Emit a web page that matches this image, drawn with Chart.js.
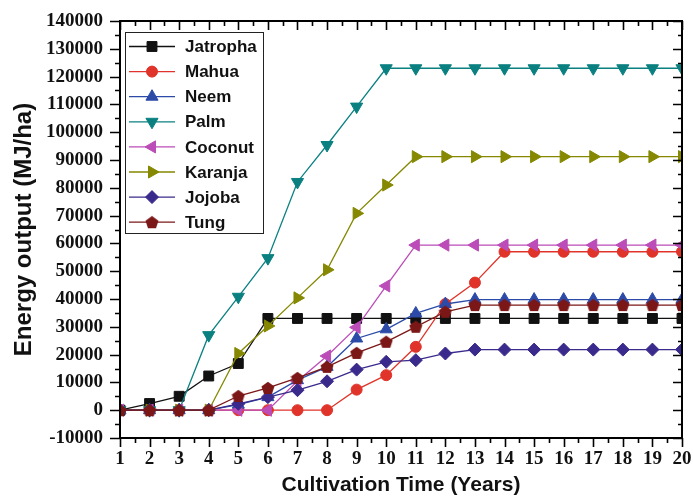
<!DOCTYPE html>
<html>
<head>
<meta charset="utf-8">
<script src="https://cdn.jsdelivr.net/npm/chart.js@4.4.1/dist/chart.umd.min.js"></script>
<style>
  html, body { margin: 0; padding: 0; background: #fff; }
  #wrap { width: 693px; height: 498px; }
</style>
</head>
<body>
<div id="wrap"><canvas id="myChart" width="693" height="498"></canvas></div>
<script>
// data
const years = [1, 2, 3, 4, 5, 6, 7, 8, 9, 10, 11, 12, 13, 14, 15, 16, 17, 18, 19, 20];
const jatropha = [0, 2400, 5000, 12300, 16800, 33000, 33000, 33000, 33000, 33000, 33000, 33000, 33000, 33000, 33000, 33000, 33000, 33000, 33000, 33000];
const mahua = [0, 0, 0, 0, 0, 0, 0, 0, 7400, 12600, 22800, 38200, 45900, 57000, 57000, 57000, 57000, 57000, 57000, 57000];
const neem = [0, 0, 0, 0, 2000, 4700, 10800, 15600, 25800, 29100, 34800, 38200, 39800, 39800, 39800, 39800, 39800, 39800, 39800, 39800];
const palm = [0, 0, 0, 27000, 40800, 54700, 82100, 95400, 109200, 123000, 123000, 123000, 123000, 123000, 123000, 123000, 123000, 123000, 123000, 123000];
const coconut = [0, 0, 0, 0, 0, 0, 10500, 19500, 29800, 44700, 59400, 59400, 59400, 59400, 59400, 59400, 59400, 59400, 59400, 59400];
const karanja = [0, 0, 0, 0, 20400, 30300, 40400, 50500, 70800, 81000, 91200, 91200, 91200, 91200, 91200, 91200, 91200, 91200, 91200, 91200];
const jojoba = [0, 0, 0, 0, 2300, 4700, 7200, 10400, 14600, 17400, 18000, 20400, 21800, 21800, 21800, 21800, 21800, 21800, 21800, 21800];
const tung = [0, 0, 0, 0, 5100, 8000, 11600, 15600, 20600, 24600, 30000, 35400, 37800, 37800, 37800, 37800, 37800, 37800, 37800, 37800];

const seriesNames = ['Jatropha', 'Mahua', 'Neem', 'Palm', 'Coconut', 'Karanja', 'Jojoba', 'Tung'];
const seriesValues = [jatropha, mahua, neem, palm, coconut, karanja, jojoba, tung];
const seriesColors = ['#111111', '#e0332a', '#2c4ba8', '#0b8080', '#bb4cb8', '#858800', '#3a2a8c', '#7c1717'];

// pentagon marker for Tung (not a built-in point style)
function pentagon(color) {
  const c = document.createElement('canvas');
  c.width = 14; c.height = 14;
  const g = c.getContext('2d');
  g.fillStyle = color;
  g.beginPath();
  for (let k = 0; k < 5; k++) {
    const a = -Math.PI / 2 + k * 2 * Math.PI / 5;
    const px = 7 + Math.cos(a) * 6.8, py = 7.6 + Math.sin(a) * 6.8;
    if (k === 0) g.moveTo(px, py); else g.lineTo(px, py);
  }
  g.closePath();
  g.fill();
  return c;
}

const markers = [
  { style: 'rect', radius: 7, rotation: 0 },
  { style: 'circle', radius: 5.5, rotation: 0 },
  { style: 'triangle', radius: 7, rotation: 0 },
  { style: 'triangle', radius: 7, rotation: 180 },
  { style: 'triangle', radius: 7, rotation: 270 },
  { style: 'triangle', radius: 7, rotation: 90 },
  { style: 'rectRot', radius: 6.5, rotation: 0 },
  { style: pentagon('#7c1717'), radius: 7, rotation: 0 }
];

const datasets = seriesNames.map((name, i) => ({
  label: name,
  data: years.map((yr, j) => ({ x: yr, y: seriesValues[i][j] })),
  borderColor: seriesColors[i],
  backgroundColor: seriesColors[i],
  borderWidth: 1.3,
  pointStyle: markers[i].style,
  pointRadius: markers[i].radius,
  pointRotation: markers[i].rotation,
  pointBorderWidth: 1,
  pointBorderColor: seriesColors[i],
  pointBackgroundColor: seriesColors[i],
  tension: 0,
  order: seriesNames.length - i
}));

// ticks on all four sides plus the in-plot legend box
const frameAndLegend = {
  id: 'frameAndLegend',
  afterDraw(chart) {
    const ctx = chart.ctx;
    const a = chart.chartArea;
    const xs = chart.scales.x, ys = chart.scales.y;
    ctx.save();
    ctx.strokeStyle = '#000';
    ctx.lineWidth = 2;
    ctx.strokeRect(a.left, a.top, a.right - a.left, a.bottom - a.top);

    ctx.lineWidth = 1.6;
    ctx.beginPath();
    for (let v = -10000; v <= 140000; v += 5000) {
      const py = Math.round(ys.getPixelForValue(v)) + 0.5;
      const len = v % 10000 === 0 ? 10 : 5;
      ctx.moveTo(a.left, py); ctx.lineTo(a.left - len, py);
      ctx.moveTo(a.right, py); ctx.lineTo(a.right - len + 1, py);
    }
    for (let v = 1; v <= 20; v += 0.5) {
      const px = Math.round(xs.getPixelForValue(v)) + 0.5;
      const len = v % 1 === 0 ? 9 : 5;
      ctx.moveTo(px, a.bottom); ctx.lineTo(px, a.bottom + len);
      ctx.moveTo(px, a.top); ctx.lineTo(px, a.top + len);
    }
    ctx.stroke();

    // legend
    const bx = 125.5, by = 32.5, bw = 138, bh = 201;
    ctx.fillStyle = '#fff';
    ctx.fillRect(bx, by, bw, bh);
    ctx.lineWidth = 1;
    ctx.strokeStyle = '#222';
    ctx.strokeRect(bx, by, bw, bh);
    ctx.font = 'bold 17px "Liberation Sans", Arial, sans-serif';
    ctx.textBaseline = 'middle';
    ctx.textAlign = 'left';
    chart.data.datasets.forEach((ds, i) => {
      const yy = 46.5 + i * 25.1;
      ctx.strokeStyle = ds.borderColor;
      ctx.lineWidth = 1.3;
      ctx.beginPath();
      ctx.moveTo(129, yy); ctx.lineTo(175, yy);
      ctx.stroke();
      ctx.fillStyle = ds.backgroundColor;
      ctx.strokeStyle = ds.borderColor;
      ctx.lineWidth = 1;
      Chart.helpers.drawPoint(ctx, {
        pointStyle: ds.pointStyle,
        radius: ds.pointRadius,
        rotation: ds.pointRotation,
        borderWidth: 1
      }, 152, yy);
      ctx.fillStyle = '#111';
      ctx.fillText(ds.label, 185, yy + 1);
    });
    ctx.restore();
  }
};

const ctx = document.getElementById('myChart');

new Chart(ctx, {
  type: 'line',
  data: { datasets: datasets },
  options: {
    responsive: false,
    animation: false,
    events: [],
    layout: { autoPadding: false, padding: { top: 21, right: 11, left: 0, bottom: 0 } },
    plugins: {
      legend: { display: false },
      tooltip: { enabled: false }
    },
    scales: {
      x: {
        type: 'linear',
        min: 1,
        max: 20,
        afterFit: (s) => { s.height = 60; s.paddingLeft = 0; s.paddingRight = 0; },
        grid: { display: false, drawTicks: false },
        border: { display: false },
        ticks: {
          stepSize: 1,
          autoSkip: false,
          maxRotation: 0,
          padding: 10,
          color: '#111',
          callback: (v) => String(v),
          font: { family: '"Liberation Serif", "Times New Roman", serif', size: 19, weight: 'bold' }
        },
        title: {
          display: true,
          text: 'Cultivation Time (Years)',
          color: '#111',
          padding: { top: 0, bottom: 0 },
          font: { family: '"Liberation Sans", Arial, sans-serif', size: 21, weight: 'bold' }
        }
      },
      y: {
        min: -10000,
        max: 140000,
        afterFit: (s) => { s.width = 120; s.paddingTop = 0; s.paddingBottom = 0; },
        grid: { display: false, drawTicks: false },
        border: { display: false },
        ticks: {
          stepSize: 10000,
          autoSkip: false,
          padding: 17,
          color: '#111',
          callback: (v) => String(v),
          font: { family: '"Liberation Serif", "Times New Roman", serif', size: 19, weight: 'bold' }
        },
        title: {
          display: true,
          text: 'Energy output (MJ/ha)',
          color: '#111',
          padding: { top: 10, bottom: 0 },
          font: { family: '"Liberation Sans", Arial, sans-serif', size: 24, weight: 'bold' }
        }
      }
    }
  },
  plugins: [frameAndLegend]
});
</script>
</body>
</html>
